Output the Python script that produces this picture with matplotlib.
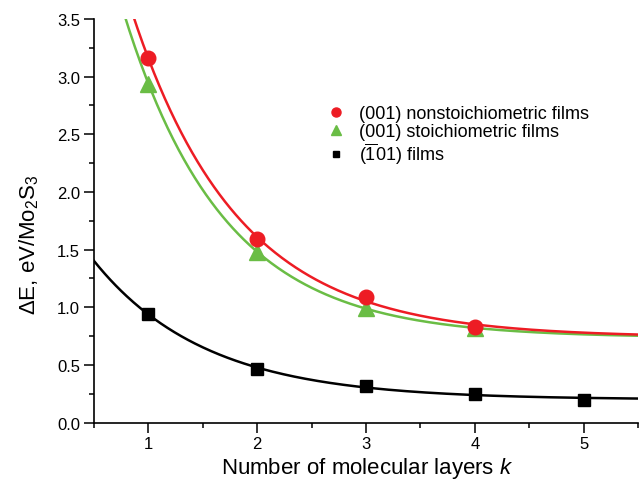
"""Binding energy versus number of molecular layers for Mo2S3 films."""

import matplotlib
matplotlib.use("Agg", force=True)
import matplotlib.pyplot as plt
import numpy as np

plt.rcParams["font.family"] = ["Liberation Sans", "DejaVu Sans"]
plt.rcParams["mathtext.fontset"] = "custom"
plt.rcParams["mathtext.rm"] = "Liberation Sans"
plt.rcParams["mathtext.it"] = "Liberation Sans:italic"
plt.rcParams["mathtext.bf"] = "Liberation Sans:bold"

# values
k_nonstoich = [1, 2, 3, 4]
e_nonstoich = [3.16, 1.59, 1.09, 0.83]

k_stoich = [1, 2, 3, 4]
e_stoich = [2.94, 1.48, 0.99, 0.82]

k_101 = [1, 2, 3, 4, 5]
e_101 = [0.94, 0.465, 0.32, 0.248, 0.20]

labels = [
    "(001) nonstoichiometric films",
    "(001) stoichiometric films",
    r"($\overline{\mathrm{1}}$01) films",
]

RED = "#ED1C24"
GREEN = "#6ABD45"
BLACK = "#000000"


def exp_decay_fit(x, y):
    """Least-squares fit of y = y0 + A*exp(-x/t), returns a callable."""
    x = np.asarray(x, float)
    y = np.asarray(y, float)
    best = None
    for t in np.linspace(0.2, 5.0, 4000):
        m = np.column_stack([np.ones_like(x), np.exp(-x / t)])
        coef, *_ = np.linalg.lstsq(m, y, rcond=None)
        err = np.sum((m @ coef - y) ** 2)
        if best is None or err < best[0]:
            best = (err, coef, t)
    _, (y0, a), t = best
    return lambda xx: y0 + a * np.exp(-np.asarray(xx) / t)


fig = plt.figure(figsize=(6.39, 4.81), dpi=100)
ax = fig.add_axes([94 / 639, 1 - 423.6 / 481, 544 / 639, (423.6 - 20) / 481])

xs = np.linspace(0.5, 5.5, 400)
series = [
    (k_stoich, e_stoich, GREEN, "^", 11, labels[1], 3),
    (k_nonstoich, e_nonstoich, RED, "o", 10.5, labels[0], 4),
    (k_101, e_101, BLACK, "s", 8, labels[2], 3),
]
handles = {}
for k, e, color, marker, ms, label, z in series:
    fit = exp_decay_fit(k, e)
    ax.plot(xs, fit(xs), color=color, lw=1.8, zorder=z - 1)
    h, = ax.plot(k, e, marker, color=color, ms=ms, ls="none", label=label, zorder=z)
    handles[label] = h

ax.set_xlim(0.5, 5.5)
ax.set_ylim(0, 3.5)
ax.set_xticks([1, 2, 3, 4, 5])
ax.set_xticks(np.arange(0.5, 5.51, 0.5), minor=True)
ax.set_yticks(np.arange(0, 3.51, 0.5))
ax.set_yticks(np.arange(0, 3.51, 0.25), minor=True)
ax.yaxis.set_major_formatter(matplotlib.ticker.FormatStrFormatter("%.1f"))

for side in ("top", "right"):
    ax.spines[side].set_visible(False)
for side in ("left", "bottom"):
    ax.spines[side].set_linewidth(1.2)
ax.tick_params(which="major", direction="out", length=7, width=1.1, labelsize=12, pad=3)
ax.tick_params(which="minor", direction="out", length=3.6, width=1.1)

ax.set_xlabel(r"Number of molecular layers $k$", fontsize=16)
ax.xaxis.set_label_coords(0.502, -0.081)
ax.set_ylabel(r"$\Delta$E, eV/Mo$_2$S$_3$", fontsize=16)
ax.yaxis.set_label_coords(-0.097, 0.4425)

ax.legend(
    [handles[l] for l in labels], labels,
    loc="upper left", bbox_to_anchor=(327 / 639, 1 - 106 / 481),
    bbox_transform=fig.transFigure, frameon=False, fontsize=13,
    markerscale=0.62, numpoints=1, handlelength=1.0, handletextpad=0.8,
    labelspacing=0.05, borderpad=0, borderaxespad=0,
)

fig.savefig("out.png", dpi=100)
